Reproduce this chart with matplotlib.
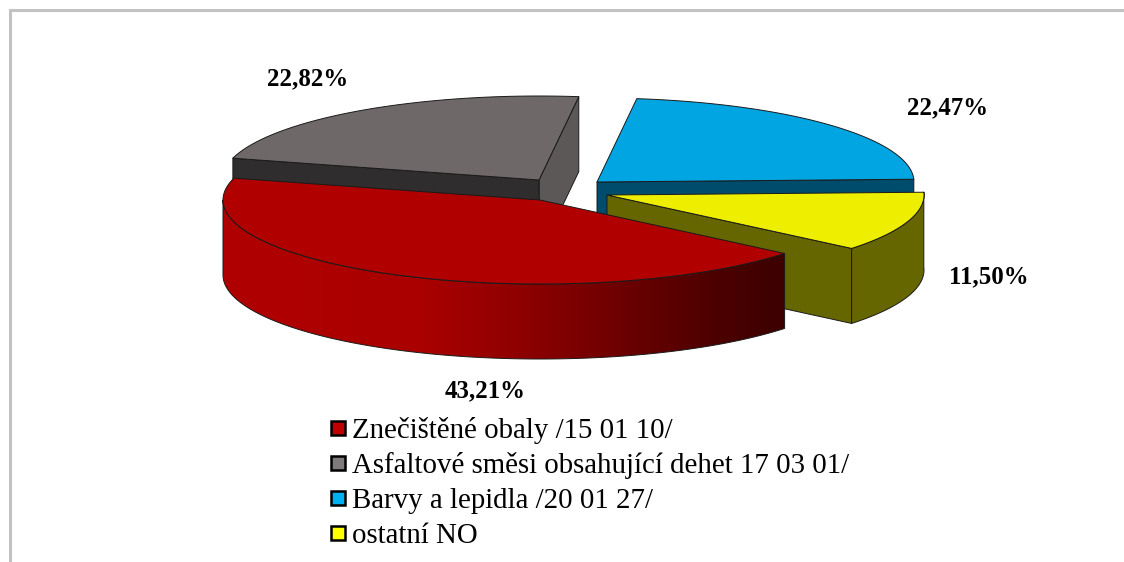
"""Exploded 3D-look pie chart, drawn by hand because matplotlib has no such pie."""
import numpy as np
import matplotlib
matplotlib.use("Agg")
import matplotlib.pyplot as plt
from matplotlib.colors import LinearSegmentedColormap
from matplotlib.patches import Polygon, Rectangle

categories = [
    "Znečištěné obaly /15 01 10/",
    "Asfaltové směsi obsahující dehet 17 03 01/",
    "Barvy a lepidla /20 01 27/",
    "ostatní NO",
]
values = [43.21, 22.82, 22.47, 11.50]
value_labels = ["43,21%", "22,82%", "22,47%", "11,50%"]

top_colors = ["#B00000", "#6E6868", "#00A5E2", "#EEEE00"]
wall_colors = ["#B00000", "#2F2D2D", "#004C6C", "#666600"]
legend_colors = ["#C00000", "#7F7B7B", "#00B0F0", "#FFFF00"]

# apex of every slice in pixels (exploded)
apexes = [(540, 200), (539, 180), (597, 182), (607, 195)]
label_pos = [(485, 391), (308, 79), (948, 108), (989, 277)]
RX, RY, DEPTH = 317, 84, 75
START = -39.5  # red begins here and runs clockwise

plt.rcParams["font.family"] = ["Liberation Serif", "DejaVu Serif"]

fig = plt.figure(figsize=(11.24, 5.62), dpi=100)
ax = fig.add_axes([0, 0, 1, 1])
ax.set_xlim(0, 1124)
ax.set_ylim(562, 0)
ax.axis("off")

# chart frame, open at the bottom and cut off by the image edge
ax.plot([10, 10, 1124], [562, 10, 10], color="#C2C2C2", lw=2.2, solid_joinstyle="miter")

# slice angles
bounds = [START]
for v in values:
    bounds.append(bounds[-1] - v * 3.6)


def arc(i, t0, t1, dy=0):
    t = np.radians(np.linspace(t0, t1, 160))
    cx, cy = apexes[i]
    return np.column_stack([cx + RX * np.cos(t), cy - RY * np.sin(t) + dy])


def point(i, t, dy=0):
    return arc(i, t, t, dy)[0]


def poly(pts, face, z, edge="#1A1A1A", lw=0.7):
    p = Polygon(pts, closed=True, facecolor=face, edgecolor=edge, lw=lw, zorder=z,
                joinstyle="round")
    ax.add_patch(p)
    return p


def wall(i, t0, t1, face, z):
    top_edge = arc(i, t0, t1)
    return poly(np.vstack([top_edge, arc(i, t1, t0, DEPTH)]), face, z)


def cut(i, t, face, z):
    apex = np.array(apexes[i], dtype=float)
    edge = point(i, t)
    down = np.array([0, DEPTH])
    poly([apex, edge, edge + down, apex + down], face, z)


def top(i, z):
    t0, t1 = bounds[i], bounds[i + 1]
    poly(np.vstack([[apexes[i]], arc(i, t0, t1)]), top_colors[i], z)


# gray slice, at the back
cut(1, bounds[2], "#5C5858", 1)
cut(1, bounds[1], wall_colors[1], 1.2)
top(1, 1.5)

# blue slice
cut(2, bounds[3], wall_colors[2], 2)
top(2, 2.5)

# yellow slice
cut(3, bounds[0], wall_colors[3], 3)
wall(3, bounds[0], bounds[3] + 360, wall_colors[3], 3.1)
top(3, 3.5)

# red slice: outer wall with a horizontal shade towards the right
red_wall = wall(0, bounds[0], -180, "none", 4.6)
shade = LinearSegmentedColormap.from_list(
    "red_shade",
    [(0, "#B00000"), (0.35, "#AA0000"), (0.53, "#8E0000"), (0.70, "#6E0000"),
     (0.88, "#4C0000"), (1, "#3C0000")],
)
img = ax.imshow(np.linspace(0, 1, 300).reshape(1, -1), cmap=shade, aspect="auto", zorder=4.5,
                extent=[223, 787, 562, 0])
img.set_clip_path(Polygon(red_wall.get_xy(), closed=True, transform=ax.transData))
ax.set_xlim(0, 1124)
ax.set_ylim(562, 0)
top(0, 5)

# value labels
for (x, y), s in zip(label_pos, value_labels):
    ax.text(x, y, s, ha="center", va="center", fontsize=17.9,
            fontweight="bold", color="black", zorder=8)

# legend
legend_ys = [428, 463, 498, 533]
for name, color, y in zip(categories, legend_colors, legend_ys):
    ax.add_patch(Rectangle((331, y - 7), 14, 14, facecolor=color, edgecolor="black", lw=1.8, zorder=8))
    ax.text(352, y + 10, name, ha="left", va="baseline", fontsize=20.8, color="black", zorder=8)

fig.savefig("out.png", dpi=100)
